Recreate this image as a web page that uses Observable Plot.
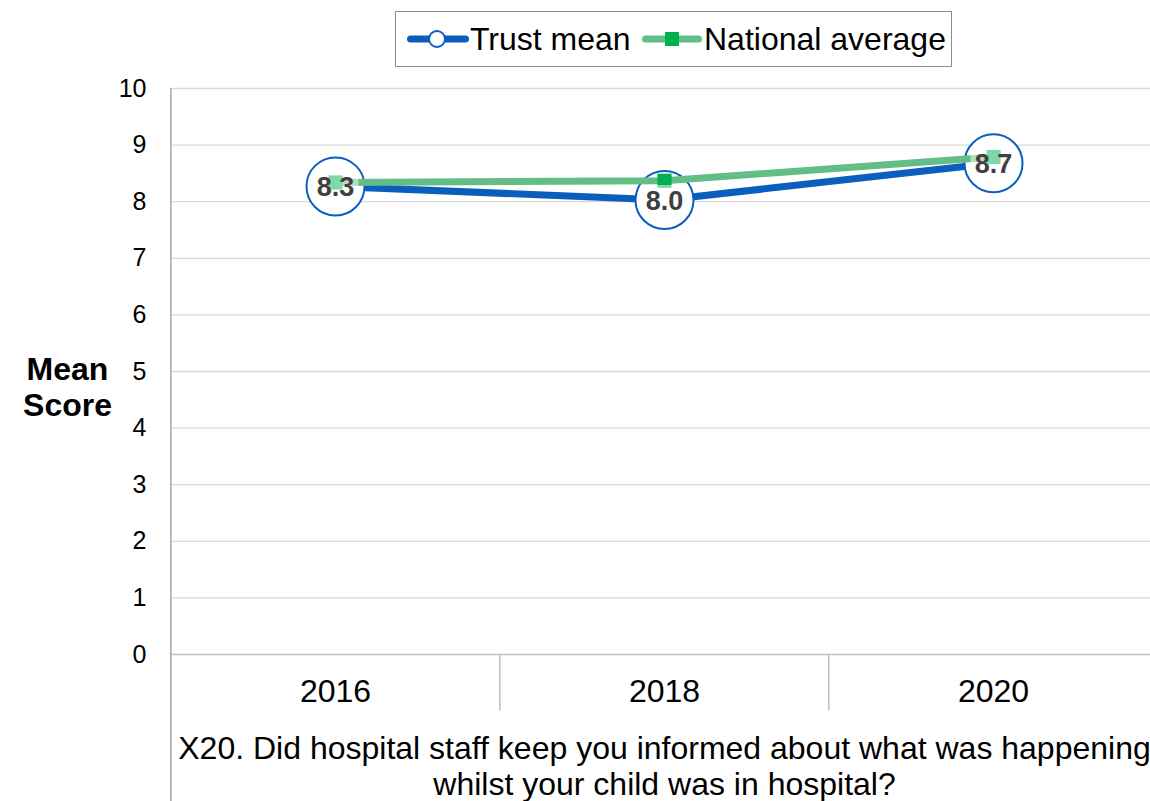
<!DOCTYPE html>
<html>
<head>
<meta charset="utf-8">
<script src="https://cdn.jsdelivr.net/npm/d3@7"></script>
<script src="https://cdn.jsdelivr.net/npm/@observablehq/plot@0.6"></script>
<style>
  html, body { margin: 0; padding: 0; background: #fff; overflow: hidden; }
  body { width: 1150px; height: 801px; position: relative; font-family: "Liberation Sans", Arial, sans-serif; }
  #chart { position: absolute; left: 0; top: 0; width: 1158px; }
  #chart svg { max-width: none !important; }
  #legend {
    position: absolute; left: 395px; top: 11px; width: 557px; height: 56px;
    border: 1.5px solid #8c8c8c; box-sizing: border-box;
    font-size: 32px; color: #000; line-height: 1;
  }
  #legend .item { position: absolute; top: 0; height: 100%; display: flex; align-items: center; }
  #legend svg { display: block; }
</style>
</head>
<body>
<div id="chart"></div>
<div id="legend"></div>
<script>
// ---- data ----
const years = ["2016", "2018", "2020"];
const trustMean = [8.27, 8.03, 8.68];
const nationalAverage = [8.34, 8.37, 8.79];
const yTicks = [0, 1, 2, 3, 4, 5, 6, 7, 8, 9, 10];
const seriesNames = ["Trust mean", "National average"];
const questionTitle = "X20. Did hospital staff keep you informed about what was happening\nwhilst your child was in hospital?";
const yLabel = "Mean\nScore";

const blue = "#0a5ebe";
const green = "#62bd86";
const greenDark = "#00b050";

const trust = years.map((y, i) => ({year: y, value: trustMean[i]}));
const national = years.map((y, i) => ({year: y, value: nationalAverage[i]}));

const W = 1158, H = 801;
const mL = 170, mT = 88, mB = 147;
const half = (W - mL) / years.length / 2;

const labelBox = {
  draw(ctx) { ctx.rect(-23, -15, 46, 30); }
};

const chart = Plot.plot({
  width: W,
  height: H,
  marginLeft: mL,
  marginRight: 0,
  marginTop: mT,
  marginBottom: mB,
  style: {fontFamily: "'Liberation Sans', Arial, sans-serif", background: "white", overflow: "visible", maxWidth: "none"},
  x: {type: "point", domain: years, padding: 0.5, align: 0.5, label: null},
  y: {domain: [0, 10], label: null},
  marks: [
    Plot.ruleY(yTicks.filter(d => d > 0), {stroke: "#d9d9d9", strokeWidth: 1.3}),
    Plot.ruleY([0], {stroke: "#bfbfbf", strokeWidth: 1.5}),
    // category dividers
    Plot.ruleX(years.slice(1), {dx: -half, y1: 0, y2: -1, stroke: "#bfbfbf", strokeWidth: 1.5}),
    Plot.ruleX(years.slice(0, 1), {dx: -half, y1: 10, y2: -2.7, stroke: "#a6a6a6", strokeWidth: 1.5}),
    Plot.axisY(yTicks, {tickSize: 0, tickPadding: 24, fontSize: 25, fill: "#000", label: null, tickFormat: d => String(d)}),
    Plot.axisX({tickSize: 0, tickPadding: 25, fontSize: 32, fill: "#000", label: null}),
    // trust mean
    Plot.line(trust, {x: "year", y: "value", stroke: blue, strokeWidth: 7}),
    Plot.dot(trust, {x: "year", y: "value", r: 29, fill: "white", stroke: blue, strokeWidth: 2}),
    // national average
    Plot.line(national, {x: "year", y: "value", stroke: green, strokeWidth: 7}),
    Plot.dot(national, {x: "year", y: "value", symbol: "square", r: 8, fill: greenDark}),
    // data labels
    Plot.dot(trust, {x: "year", y: "value", symbol: labelBox, fill: "white", fillOpacity: 0.5, stroke: "none"}),
    Plot.text(trust, {x: "year", y: "value", text: d => d.value.toFixed(1), fontSize: 27, fontWeight: "bold", fill: "#404040", dy: 1}),
    // y label
    Plot.text([yLabel], {frameAnchor: "left", text: d => d, dx: -103, dy: 15, textAnchor: "middle", fontSize: 32, fontWeight: "bold", lineHeight: 1.13, fill: "#000"}),
    // question title
    Plot.text([questionTitle], {frameAnchor: "bottom", text: d => d, lineAnchor: "top", dy: 79, fontSize: 32, lineHeight: 1.125, fill: "#000", textAnchor: "middle"})
  ]
});
document.getElementById("chart").appendChild(chart);

// ---- legend ----
const legend = document.getElementById("legend");
function addItem(left, name, swatch) {
  const div = document.createElement("div");
  div.className = "item";
  div.style.left = left + "px";
  div.innerHTML = swatch + `<span style="margin-left:1px">${name}</span>`;
  legend.appendChild(div);
}
addItem(11, seriesNames[0],
  `<svg width="62" height="20"><line x1="3.5" y1="10" x2="58.5" y2="10" stroke="${blue}" stroke-width="7" stroke-linecap="round"/><circle cx="30" cy="10" r="8" fill="white" stroke="${blue}" stroke-width="2"/></svg>`);
addItem(245, seriesNames[1],
  `<svg width="62" height="20"><line x1="4.5" y1="10" x2="57.5" y2="10" stroke="${green}" stroke-width="7" stroke-linecap="round"/><rect x="24" y="3" width="14" height="14" fill="${greenDark}"/></svg>`);
</script>
</body>
</html>
